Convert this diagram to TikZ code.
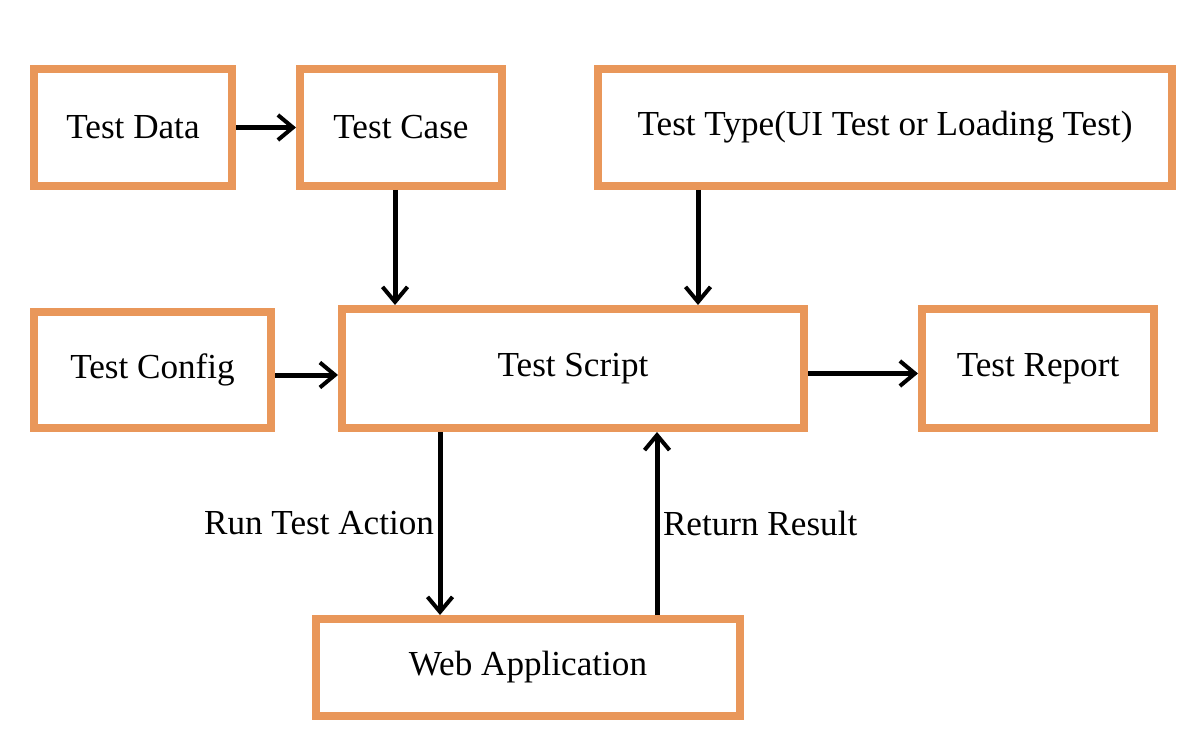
\documentclass[tikz,border=0pt]{standalone}
\usepackage{fontspec}
\setmainfont{Liberation Serif}
\usetikzlibrary{arrows.meta}
\definecolor{boxorange}{HTML}{E9975A}
\tikzset{
    box/.style={draw=boxorange, line width=0.16cm, fill=white, inner sep=0pt,
        font=\fontsize{20}{23}\selectfont},
    arr/.style={line width=0.1cm, -{Straight Barb[length=0.3cm,width=0.5cm,line width=0.08cm]}},
    lbl/.style={font=\fontsize{20}{23}\selectfont, inner sep=2pt}
}
\begin{document}
\begin{tikzpicture}

\useasboundingbox (0,0) rectangle (23.76,15.06);

% top row
\node[box, minimum width=3.96cm, minimum height=2.34cm] (data) at (2.66,12.51) {Test Data};
\node[box, minimum width=4.04cm, minimum height=2.34cm] (case) at (8.02,12.51) {Test Case};
\node[box, minimum width=11.48cm, minimum height=2.34cm] (type) at (17.7,12.51)
{Test Type(UI Test or Loading Test)};

% middle row
\node[box, minimum width=4.74cm, minimum height=2.32cm] (config) at (3.05,7.66) {Test Config};
\node[box, minimum width=9.24cm, minimum height=2.38cm] (script) at (11.46,7.69) {Test Script};
\node[box, minimum width=4.64cm, minimum height=2.38cm] (report) at (20.76,7.69) {Test Report};

% bottom
\node[box, minimum width=8.48cm, minimum height=1.94cm] (web) at (10.56,1.71) {Web Application};

% arrows
\draw[arr] (data.east) -- (case.west);
\draw[arr] ([xshift=-0.12cm]case.south) -- ([xshift=-0.12cm]case.south |- script.north);
\draw[arr] ([xshift=-3.74cm]type.south) -- ([xshift=-3.74cm]type.south |- script.north);
\draw[arr] ([yshift=-0.1cm]config.east) -- ([yshift=-0.1cm]config.east -| script.west);
\draw[arr] ([yshift=-0.1cm]script.east) -- ([yshift=-0.1cm]script.east -| report.west);

\draw[arr] ([xshift=-2.66cm]script.south) -- ([xshift=-2.66cm]script.south |- web.north)
    node[lbl, pos=0.5, left] (run) {Run Test Action};
\draw[arr] ([xshift=2.58cm]web.north) -- ([xshift=2.58cm]web.north |- script.south)
    node[lbl, pos=0.5, right] (ret) {Return Result};

\end{tikzpicture}
\end{document}
